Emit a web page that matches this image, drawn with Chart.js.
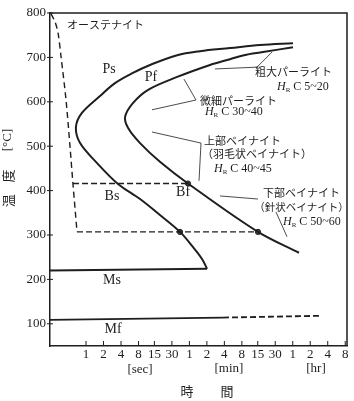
<!DOCTYPE html>
<html>
<head>
<meta charset="utf-8">
<script src="https://cdn.jsdelivr.net/npm/chart.js@4.4.0/dist/chart.umd.min.js"></script>
<style>
  html, body { margin: 0; padding: 0; background: #fff; }
</style>
</head>
<body>
<canvas id="ttt" width="354" height="401"></canvas>
<script>
// --- Axis ticks ---
// time axis values are in seconds, labels restart for sec / min / hr
const timeTicks = [1, 2, 4, 8, 15, 30, 60, 120, 240, 480, 900, 1800, 3600, 7200, 14400, 28800];
const timeTickLabels = ['1', '2', '4', '8', '15', '30', '1', '2', '4', '8', '15', '30', '1', '2', '4', '8'];
const tempTicks = [100, 200, 300, 400, 500, 600, 700, 800];

// --- Curves (time in s, temperature in °C) ---
// Ps / Bs : transformation start
const psTime = [3640, 985, 300, 91, 37, 12.6, 6.4, 3.15, 1.74, 0.85, 0.67, 0.79, 1.55, 3.55, 8.5, 18.7, 41.4, 69, 99, 121];
const psTemp = [732, 728, 721, 714, 705, 683, 665, 642, 613, 575, 543, 507, 462, 415, 381, 345, 307, 273, 246, 224];
// Pf / Bf : transformation finish
const pfTime = [3640, 1108, 522, 300, 136, 37, 11.7, 6.4, 4.7, 5.3, 8.5, 18.7, 56.8, 909, 4610];
const pfTemp = [723, 712, 705, 696, 683, 656, 627, 597, 566, 541, 507, 465, 416, 307, 260];
// dashed boundary on the left
const edgeTime = [0.25, 0.293, 0.33, 0.372, 0.453, 0.531, 0.598, 0.70];
const edgeTemp = [798, 780, 755, 701, 604, 498, 413, 307];
// dashed isotherms
const upperIsoTime = [0.598, 56.8];
const upperIsoTemp = [416, 416];
const lowerIsoTime = [0.70, 909];
const lowerIsoTemp = [307, 307];
// Ms and Mf
const msTime = [0.24, 121];
const msTemp = [220, 224];
const mfTime = [0.24, 227];
const mfTemp = [109, 114];
const mfDashTime = [227, 10600];
const mfDashTemp = [114, 118];
// marked points
const dotTime = [56.8, 41.4, 909];
const dotTemp = [416, 307, 307];

// --- Leader lines for the structure labels ---
const coarseLeadTime = [165.6, 874, 1584];
const coarseLeadTemp = [674, 678, 712];
const fineLeadTime = [13.65, 78, 48.5];
const fineLeadTemp = [582, 604, 651];
const upperLeadTime = [13.65, 95.1, 87.9];
const upperLeadTemp = [532, 507, 422];
const lowerLeadTime = [202, 909];
const lowerLeadTemp = [388, 381];
const lowerLead2Time = [1855, 2868];
const lowerLead2Temp = [352, 296];

const toXY = (xs, ys) => xs.map((x, i) => ({ x: x, y: ys[i] }));

const ink = '#1e1e1e';
const serif = "'Liberation Serif', 'DejaVu Serif', serif";
const jp = "'Noto Sans CJK JP', sans-serif";

function lineSet(xs, ys, opts) {
    return Object.assign({
        data: toXY(xs, ys),
        showLine: true,
        borderColor: ink,
        borderWidth: 2,
        pointRadius: 0,
        tension: 0,
        fill: false
    }, opts);
}

// --- Text placed in data coordinates ---
const texts = [
    { t: 0.47, T: 773, text: 'オーステナイト', font: '11px ' + jp, align: 'left' },
    { t: 2.49, T: 674, text: 'Ps', font: '14px ' + serif, align: 'center' },
    { t: 13.1, T: 656, text: 'Pf', font: '14px ' + serif, align: 'center' },
    { t: 2.8, T: 388, text: 'Bs', font: '14px ' + serif, align: 'center' },
    { t: 46.8, T: 397, text: 'Bf', font: '14px ' + serif, align: 'center' },
    { t: 2.8, T: 199, text: 'Ms', font: '14px ' + serif, align: 'center' },
    { t: 2.91, T: 87, text: 'Mf', font: '14px ' + serif, align: 'center' },
    { t: 807, T: 667, text: '粗大パーライト', font: '11px ' + jp, align: 'left' },
    { t: 91.4, T: 602, text: '微細パーライト', font: '11px ' + jp, align: 'left' },
    { t: 107, T: 512, text: '上部ベイナイト', font: '11px ' + jp, align: 'left' },
    { t: 98.9, T: 483, text: '（羽毛状ベイナイト）', font: '11px ' + jp, align: 'left' },
    { t: 1108, T: 395, text: '下部ベイナイト', font: '11px ' + jp, align: 'left' },
    { t: 780, T: 363, text: '（針状ベイナイト）', font: '10.5px ' + jp, align: 'left' }
];
const hardness = [
    { t: 1930, T: 633, text: ' C 5~20' },
    { t: 111, T: 577, text: ' C 30~40' },
    { t: 159, T: 449, text: ' C 40~45' },
    { t: 2448, T: 330, text: ' C 50~60' }
];

const decorPlugin = {
    id: 'decor',
    afterDraw(chart) {
        const { ctx, chartArea: a, scales: { x, y } } = chart;
        ctx.save();
        ctx.strokeStyle = ink;
        ctx.fillStyle = ink;

        // top and right frame
        ctx.lineWidth = 1.5;
        ctx.beginPath();
        ctx.moveTo(a.left, a.top);
        ctx.lineTo(a.right, a.top);
        ctx.lineTo(a.right, a.bottom);
        ctx.stroke();

        // small tick marks
        ctx.lineWidth = 1;
        timeTicks.forEach(v => {
            const px = x.getPixelForValue(v);
            ctx.beginPath();
            ctx.moveTo(px, a.bottom);
            ctx.lineTo(px, a.bottom - 5);
            ctx.stroke();
        });
        tempTicks.forEach(v => {
            const py = y.getPixelForValue(v);
            ctx.beginPath();
            ctx.moveTo(a.left - 3, py);
            ctx.lineTo(a.left + 3, py);
            ctx.stroke();
        });

        // unit labels under the time axis
        ctx.textBaseline = 'middle';
        ctx.textAlign = 'center';
        ctx.font = '13px ' + serif;
        ctx.fillText('[sec]', x.getPixelForValue(8.5), a.bottom + 24);
        ctx.fillText('[min]', x.getPixelForValue(288), a.bottom + 23);
        ctx.fillText('[hr]', x.getPixelForValue(9050), a.bottom + 23);
        ctx.font = '13px ' + jp;
        ctx.fillText('時', x.getPixelForValue(54.6), a.bottom + 45);
        ctx.fillText('間', x.getPixelForValue(266), a.bottom + 45);

        // vertical axis title
        ctx.save();
        ctx.translate(8, 0);
        ctx.rotate(-Math.PI / 2);
        ctx.font = '13px ' + jp;
        ctx.fillText('温', -y.getPixelForValue(377), 0);
        ctx.fillText('度', -y.getPixelForValue(433), 0);
        ctx.font = '13px ' + serif;
        ctx.fillText('[°C]', -y.getPixelForValue(514), 0);
        ctx.restore();

        // labels in the plot
        texts.forEach(l => {
            ctx.font = l.font;
            ctx.textAlign = l.align;
            ctx.fillText(l.text, x.getPixelForValue(l.t), y.getPixelForValue(l.T));
        });

        // hardness notes: H_R C ...
        ctx.textAlign = 'left';
        hardness.forEach(h => {
            let px = x.getPixelForValue(h.t);
            const py = y.getPixelForValue(h.T);
            ctx.font = 'italic 12px ' + serif;
            ctx.fillText('H', px, py);
            px += ctx.measureText('H').width;
            ctx.font = '7px ' + serif;
            ctx.fillText('R', px, py + 3);
            px += ctx.measureText('R').width;
            ctx.font = '12px ' + serif;
            ctx.fillText(h.text, px, py);
        });
        ctx.restore();
    }
};

const dashed = [6, 4];
new Chart(document.getElementById('ttt'), {
    type: 'scatter',
    data: {
        datasets: [
            lineSet(psTime, psTemp, { tension: 0.35 }),
            lineSet(pfTime, pfTemp, { tension: 0.35 }),
            lineSet(edgeTime, edgeTemp, { tension: 0.3, borderWidth: 1.4, borderDash: dashed }),
            lineSet(upperIsoTime, upperIsoTemp, { borderWidth: 1.4, borderDash: [6, 3] }),
            lineSet(lowerIsoTime, lowerIsoTemp, { borderWidth: 1.4, borderDash: [6, 3] }),
            lineSet(msTime, msTemp, { borderWidth: 1.8 }),
            lineSet(mfTime, mfTemp, { borderWidth: 1.8 }),
            lineSet(mfDashTime, mfDashTemp, { borderWidth: 1.8, borderDash: [6, 3] }),
            lineSet(coarseLeadTime, coarseLeadTemp, { borderWidth: 0.8 }),
            lineSet(fineLeadTime, fineLeadTemp, { borderWidth: 0.8 }),
            lineSet(upperLeadTime, upperLeadTemp, { borderWidth: 0.8 }),
            lineSet(lowerLeadTime, lowerLeadTemp, { borderWidth: 0.8 }),
            lineSet(lowerLead2Time, lowerLead2Temp, { borderWidth: 0.8 }),
            {
                data: toXY(dotTime, dotTemp),
                showLine: false,
                pointRadius: 2.6,
                pointBackgroundColor: '#444',
                pointBorderColor: ink,
                pointBorderWidth: 1
            }
        ]
    },
    options: {
        responsive: false,
        animation: false,
        devicePixelRatio: 1,
        events: [],
        layout: { padding: { top: 13, right: 7, left: 0, bottom: 0 } },
        plugins: { legend: { display: false }, tooltip: { enabled: false } },
        scales: {
            x: {
                type: 'logarithmic',
                min: 0.24,
                max: 30900,
                afterBuildTicks: s => { s.ticks = timeTicks.map(v => ({ value: v })); },
                afterFit: s => { s.height = 55; },
                ticks: {
                    autoSkip: false,
                    maxRotation: 0,
                    padding: 1,
                    color: ink,
                    font: { family: serif, size: 13 },
                    callback: (v, i) => timeTickLabels[i]
                },
                grid: { drawOnChartArea: false, drawTicks: false },
                border: { color: ink, width: 1.5 }
            },
            y: {
                type: 'linear',
                min: 50,
                max: 800,
                afterBuildTicks: s => { s.ticks = tempTicks.map(v => ({ value: v })); },
                afterFit: s => { s.width = 50; },
                ticks: {
                    padding: 4,
                    color: ink,
                    font: { family: serif, size: 13 }
                },
                grid: { drawOnChartArea: false, drawTicks: false },
                border: { color: ink, width: 1.5 }
            }
        }
    },
    plugins: [decorPlugin]
});
</script>
</body>
</html>
